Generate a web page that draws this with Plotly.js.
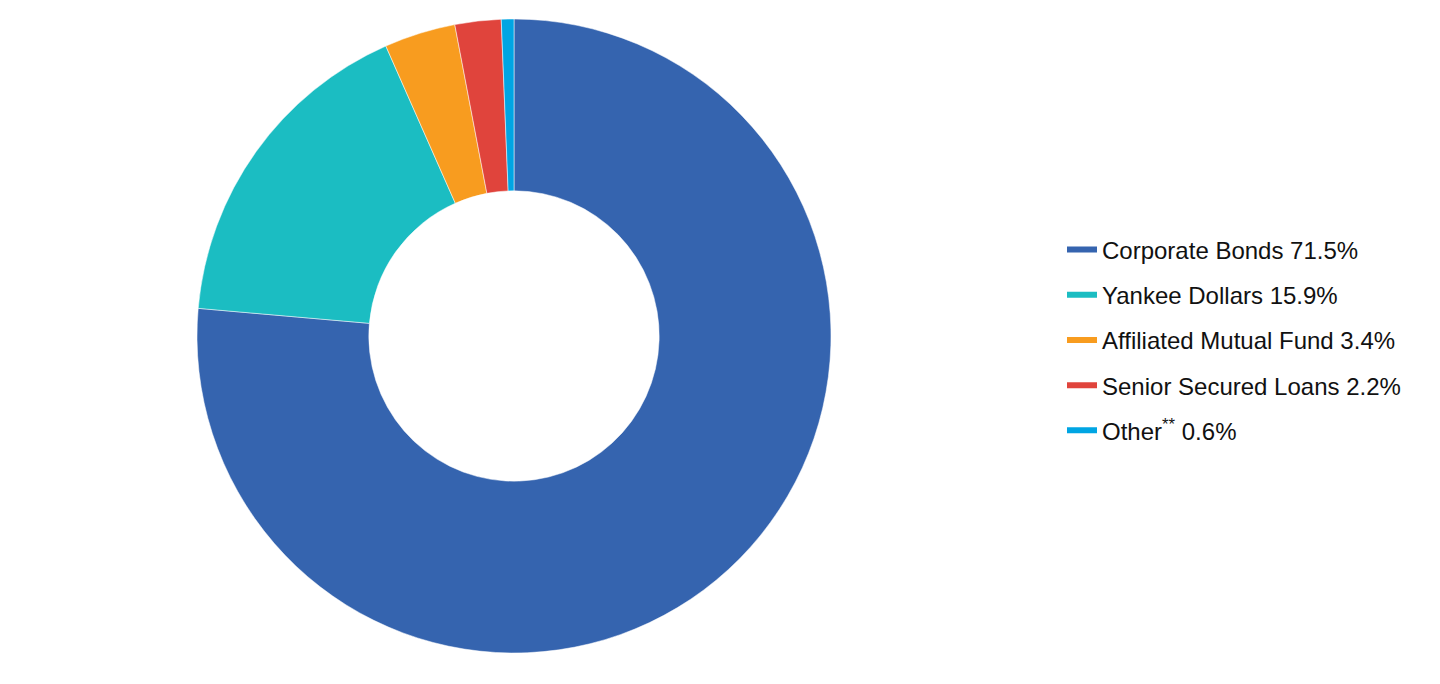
<!DOCTYPE html>
<html>
<head>
<meta charset="utf-8">
<script src="https://cdn.plot.ly/plotly-3.0.1.min.js"></script>
<style>
  html, body { margin: 0; padding: 0; background: #fff; }
  #chart { width: 1440px; height: 684px; }
</style>
</head>
<body>
<div id="chart"></div>
<script>
// Portfolio allocation (percent of net assets)
const categories = ['Corporate Bonds', 'Yankee Dollars', 'Affiliated Mutual Fund', 'Senior Secured Loans', 'Other<sup>**</sup>'];
const values = [71.5, 15.9, 3.4, 2.2, 0.6];
const colors = ['#3564AF', '#1BBDC2', '#F89C1F', '#E0443C', '#00A5E3'];

const legendLabels = categories.map((c, i) => c + ' ' + values[i].toFixed(1) + '%');

const pie = {
    type: 'pie',
    labels: categories,
    values: values,
    sort: false,
    direction: 'clockwise',
    rotation: 0,
    hole: 0.458,
    textinfo: 'none',
    hoverinfo: 'label+value',
    showlegend: false,
    marker: { colors: colors, line: { color: '#ffffff', width: 0.5 } },
    domain: { x: [197 / 1440, 831 / 1440], y: [31 / 684, 665 / 684] }
};

// legend entries drawn as short thick lines, like the original key
const keyTraces = categories.map((c, i) => ({
    type: 'scatter',
    mode: 'lines',
    x: [null], y: [null],
    name: legendLabels[i],
    legendgroup: 'g' + i,
    line: { color: colors[i], width: 6 },
    hoverinfo: 'skip'
}));

const layout = {
    width: 1440,
    height: 684,
    margin: { t: 0, b: 0, l: 0, r: 0 },
    paper_bgcolor: '#ffffff',
    plot_bgcolor: '#ffffff',
    font: { family: 'Liberation Sans, Arial, sans-serif', color: '#111111' },
    xaxis: { visible: false },
    yaxis: { visible: false },
    showlegend: true,
    legend: {
        x: 1062 / 1440,
        y: 0.503,
        xanchor: 'left',
        yanchor: 'middle',
        font: { size: 24, color: '#111111' },
        tracegroupgap: 11,
        itemwidth: 30
    }
};

Plotly.newPlot('chart', [pie].concat(keyTraces), layout, { displayModeBar: false, staticPlot: true });
</script>
</body>
</html>
